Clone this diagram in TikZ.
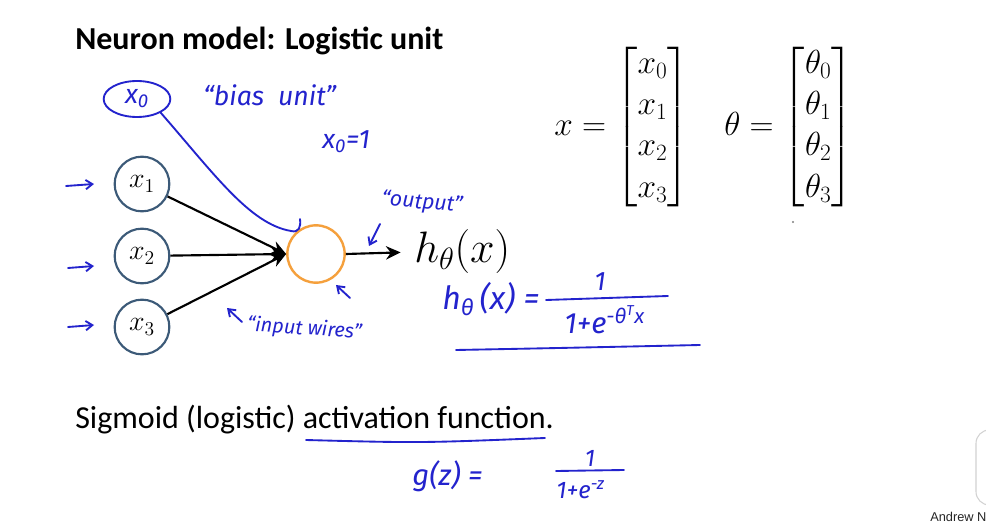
\RequirePackage{fix-cm}
\documentclass[tikz,border=0pt]{standalone}
\usepackage{amsmath}
\usepackage{fontspec}
\setsansfont{Carlito}
\newfontfamily\handfont{Fira Sans}
\newfontfamily\smallfont{Liberation Sans}
\usetikzlibrary{arrows.meta,shapes.geometric}
\definecolor{handblue}{RGB}{35,35,205}
\definecolor{inpc}{RGB}{60,90,120}
\definecolor{orng}{RGB}{245,160,60}
\begin{document}
\begin{tikzpicture}[x=0.75pt,y=-0.75pt,
  hand/.style={draw=handblue, line width=1.4pt, line cap=round, line join=round},
  handarrow/.style={hand, -{Straight Barb[length=5pt,width=7pt]}},
  handtext/.style={text=handblue, font=\handfont\itshape\fontsize{18}{20}\selectfont, inner sep=0pt},
  inp/.style={circle, draw=inpc, line width=1.6pt, minimum size=41pt, inner sep=0pt, font=\fontsize{21}{24}\selectfont},
  wire/.style={draw=black, line width=1.6pt, -{Stealth[length=11pt,width=10pt]}}]
\useasboundingbox (0,0) rectangle (986,524);
\fill[white] (0,0) rectangle (986,524);

% title
\node[anchor=base west, inner sep=0pt, font=\sffamily\bfseries\fontsize{24}{28}\selectfont] (title) at (75,50) {Neuron model: Logistic unit};

% neurons
\node[inp] (x1) at (142,184) {$x_1$};
\node[inp] (x2) at (142,256) {$x_2$};
\node[inp] (x3) at (142,327) {$x_3$};
\node[circle, draw=orng, line width=1.8pt, minimum size=43pt, inner sep=0pt] (out) at (316,254) {};
\node[anchor=west, inner sep=0pt, font=\fontsize{33}{38}\selectfont] (h) at (414,252) {$h_\theta(x)$};

\draw[wire] (x1) -- (out.west);
\draw[wire] (x2) -- (out.west);
\draw[wire] (x3) -- (out.west);
\draw[wire, shorten >=10pt] (out.east) -- (h.west);

% bias unit
\node[ellipse, draw=handblue, line width=1.4pt, minimum width=50pt, minimum height=27pt, handtext, font=\handfont\itshape\fontsize{20}{22}\selectfont] (x0) at (137,99) {x\textsubscript{0}};
\draw[hand] (x0.-30) .. controls (215,175) and (250,224) .. (291,231)
  .. controls (299,233) and (301,227) .. (300,219);
\node[handtext, anchor=west, font=\handfont\itshape\fontsize{20}{22}\selectfont] (bias) at (203,95) {“bias\ \ unit”};
\node[handtext, anchor=west, font=\handfont\itshape\fontsize{20}{22}\selectfont] (x0eq) at (322,142) {x\textsubscript{0}=1};

% input arrows
\coordinate (a1s) at (66,186); \coordinate (a1e) at (94,184);
\coordinate (a2s) at (68,268); \coordinate (a2e) at (94,266);
\coordinate (a3s) at (68,327); \coordinate (a3e) at (94,325);
\draw[handarrow] (a1s) -- (a1e);
\draw[handarrow] (a2s) -- (a2e);
\draw[handarrow] (a3s) -- (a3e);

% output label
\node[handtext, rotate=-5, font=\handfont\itshape\fontsize{16}{18}\selectfont] (outlbl) at (422,203) {“output”};
\coordinate (o1) at (380,224); \coordinate (o2) at (369,246);
\draw[handarrow] (o1) -- (o2);
\coordinate (u1) at (350,298); \coordinate (u2) at (336,285);
\draw[handarrow] (u1) -- (u2);

% input wires
\node[handtext, rotate=-4, anchor=west, font=\handfont\itshape\fontsize{15}{17}\selectfont] (wires) at (247,325) {“input wires”};
\coordinate (w1) at (242,322); \coordinate (w2) at (227,308);
\draw[handarrow] (w1) -- (w2);

% hypothesis formula
\node[handtext, anchor=base west, font=\handfont\itshape\fontsize{24}{26}\selectfont] (hdef) at (442,310) {h\textsubscript{θ}\,(x) =};
\node[handtext, font=\handfont\itshape\fontsize{20}{22}\selectfont] (num) at (600,282) {1};
\coordinate (fb1) at (546,300); \coordinate (fb2) at (668,296);
\draw[hand] (fb1) -- (fb2);
\node[handtext, anchor=west, font=\handfont\itshape\fontsize{22}{24}\selectfont] (den) at (564,320) {1+e\textsuperscript{-θ\textsuperscript{T}x}};
\coordinate (ul1) at (456,350); \coordinate (ul2) at (700,345);
\draw[hand] (ul1) .. controls (560,348) .. (ul2);

% vectors
\node[inner sep=0pt, font=\fontsize{25}{31}\selectfont] (xv) at (622,127) {$x = \begin{bmatrix}x_0\\x_1\\x_2\\x_3\end{bmatrix}$};
\node[inner sep=0pt, font=\fontsize{25}{31}\selectfont] (tv) at (789,127) {$\theta = \begin{bmatrix}\theta_0\\\theta_1\\\theta_2\\\theta_3\end{bmatrix}$};
\fill[gray] (793,222) circle (1.2);

% sigmoid
\node[anchor=base west, inner sep=0pt, font=\sffamily\fontsize{24}{28}\selectfont] (sig) at (75,428) {Sigmoid (logistic) activation function.};
\coordinate (su1) at (306,440); \coordinate (su2) at (545,438);
\draw[hand] (su1) .. controls (420,443) .. (su2);
\node[handtext, anchor=base west, font=\handfont\itshape\fontsize{22}{24}\selectfont] (gz) at (412,485) {g(z) =};
\node[handtext, font=\handfont\itshape\fontsize{18}{20}\selectfont] (gnum) at (590,458) {1};
\coordinate (gb1) at (556,471); \coordinate (gb2) at (624,470);
\draw[hand] (gb1) -- (gb2);
\node[handtext, anchor=west, font=\handfont\itshape\fontsize{18}{20}\selectfont] (gden) at (556,490) {1+e\textsuperscript{-z}};

% corner
\draw[gray!35, fill=white, line width=0.8pt, rounded corners=10pt] (976,430) rectangle (1020,505);
\node[anchor=base west, inner sep=0pt, text=black!85, font=\smallfont\fontsize{9.6}{11}\selectfont] (ng) at (930,521) {Andrew Ng};
\end{tikzpicture}
\end{document}
